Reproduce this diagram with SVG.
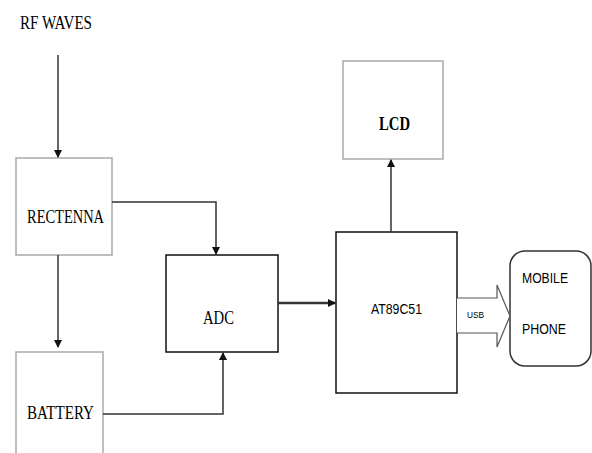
<svg xmlns="http://www.w3.org/2000/svg" width="592" height="453" viewBox="0 0 592 453">
<style>
.serif{font-family:"Liberation Serif","Times New Roman",serif;font-size:18px;fill:#000;}
.bold{font-weight:bold;font-size:19px;}
.sans{font-family:"Liberation Sans",Arial,sans-serif;fill:#000;}
.gbox{fill:#fff;stroke:#aaa;stroke-width:1.5;}
.kbox{fill:#fff;stroke:#111;stroke-width:1.5;}
.conn{fill:none;stroke:#333;stroke-width:1.5;}
</style>
<defs>
<marker id="ah" markerWidth="8" markerHeight="8" refX="7" refY="4" orient="auto" markerUnits="userSpaceOnUse">
<path d="M0,0 L8,4 L0,8 Z" fill="#111"/>
</marker>
</defs>
<text class="serif" x="20" y="29" textLength="72" lengthAdjust="spacingAndGlyphs">RF WAVES</text>
<g id="rectenna">
<rect class="gbox" x="16" y="158" width="96" height="97"/>
<text class="serif" x="27" y="223" textLength="77" lengthAdjust="spacingAndGlyphs">RECTENNA</text>
</g>
<g id="battery">
<rect class="gbox" x="16" y="352" width="87" height="110"/>
<text class="serif" x="27" y="419" textLength="67" lengthAdjust="spacingAndGlyphs">BATTERY</text>
</g>
<g id="adc">
<rect class="kbox" x="166" y="255" width="112" height="97"/>
<text class="serif" x="203" y="324" textLength="31" lengthAdjust="spacingAndGlyphs">ADC</text>
</g>
<g id="at89c51">
<rect class="kbox" x="336" y="232" width="121" height="161"/>
<text class="sans" x="371" y="314" font-size="14" textLength="51" lengthAdjust="spacingAndGlyphs">AT89C51</text>
</g>
<g id="lcd">
<rect class="gbox" x="343" y="61" width="100" height="98"/>
<text class="serif bold" x="379" y="130" textLength="31" lengthAdjust="spacingAndGlyphs">LCD</text>
</g>
<g id="mobile">
<rect x="510" y="251" width="81" height="115" rx="15" ry="15" fill="#fff" stroke="#333" stroke-width="1.5"/>
<text class="sans" x="522" y="283" font-size="14" textLength="46" lengthAdjust="spacingAndGlyphs">MOBILE</text>
<text class="sans" x="522" y="334" font-size="14" textLength="44" lengthAdjust="spacingAndGlyphs">PHONE</text>
</g>
<g id="connectors">
<line class="conn" x1="58" y1="55" x2="58" y2="157" marker-end="url(#ah)"/>
<polyline class="conn" points="112,202 216,202 216,254" marker-end="url(#ah)"/>
<line class="conn" x1="58" y1="255" x2="58" y2="347" marker-end="url(#ah)"/>
<polyline class="conn" points="103,414 223,414 223,353" marker-end="url(#ah)"/>
<line x1="278" y1="303" x2="335" y2="303" stroke="#333" stroke-width="2.5" marker-end="url(#ah)"/>
<line class="conn" x1="391" y1="232" x2="391" y2="160" marker-end="url(#ah)"/>
<path d="M457,298 L497,298 L497,285 L510,316 L497,347 L497,333 L457,333" fill="#fff" stroke="#555" stroke-width="1.2"/>
<text class="sans" x="467" y="318" font-size="9" textLength="17" lengthAdjust="spacingAndGlyphs">USB</text>
</g>
</svg>
